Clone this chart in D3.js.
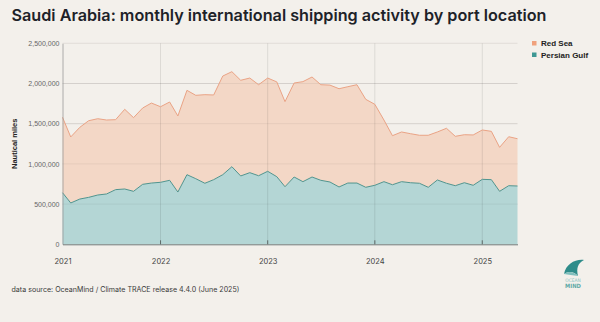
<!DOCTYPE html>
<html><head><meta charset="utf-8">
<script src="https://cdn.jsdelivr.net/npm/d3@7"></script>
<style>
html,body{margin:0;padding:0;background:#f3f0eb;}
svg{display:block;}
</style></head>
<body>
<svg id="c" width="600" height="322"></svg>
<script>
// ---- data ----
const startMonth = "2021-02";
const endMonth = "2025-05";
const seriesNames = ["Persian Gulf", "Red Sea"];
const persianGulf = [642000,514000,563000,584000,613000,626000,680000,688000,659000,746000,762000,
 771000,796000,650000,866000,816000,759000,804000,866000,965000,850000,891000,853000,
 908000,841000,716000,837000,779000,837000,796000,775000,713000,762000,762000,709000,
 734000,779000,741000,779000,766000,759000,709000,800000,759000,729000,766000,734000,
 808000,804000,659000,729000,725000];
const redSea = [938000,821000,892000,953000,949000,920000,870000,991000,916000,949000,995000,
 940000,974000,946000,1049000,1037000,1102000,1053000,1227000,1182000,1190000,1177000,1132000,
 1160000,1179000,1058000,1169000,1244000,1244000,1189000,1205000,1222000,1198000,1223000,1094000,
 1007000,767000,610000,618000,610000,597000,647000,597000,684000,614000,597000,626000,
 614000,601000,547000,609000,588000];
const yTicks = [0,500000,1000000,1500000,2000000,2500000];
const xTickYears = ["2021","2022","2023","2024","2025"];

// ---- build ----
const parse = d3.timeParse("%Y-%m");
const months = d3.timeMonth.range(parse(startMonth), d3.timeMonth.offset(parse(endMonth),1));
const rows = months.map((m,i)=>({date:m, "Persian Gulf":persianGulf[i], "Red Sea":redSea[i]}));

const svg = d3.select("#c");
const L=62.5, R=517.5, T=43.3, B=244.3;
const x = d3.scaleTime().domain([months[0], months[months.length-1]]).range([L,R]);
const y = d3.scaleLinear().domain([0,2500000]).range([B,T]);

const stack = d3.stack().keys(seriesNames)(rows);
const fills = {"Persian Gulf":"#b4d6d5","Red Sea":"#f3d7c6"};
const strokes = {"Persian Gulf":"#4f948e","Red Sea":"#eaa385"};
const legendCol = {"Red Sea":"#f0a17c","Persian Gulf":"#3e9894"};

// title
svg.append("text").attr("x",11.5).attr("y",20.5)
  .attr("font-family","Inter, 'Noto Sans', sans-serif").attr("font-weight",600)
  .attr("font-size",16.2).attr("fill","#1d2228")
  .text("Saudi Arabia: monthly international shipping activity by port location");

// horizontal grid
svg.append("g").selectAll("line").data(yTicks.filter(d=>d>0)).join("line")
  .attr("x1",L).attr("x2",R).attr("y1",d=>y(d)).attr("y2",d=>y(d))
  .attr("stroke","#dcd8d3").attr("stroke-width",0.8);

// areas
const area = d3.area().x(d=>x(d.data.date)).y0(d=>y(d[0])).y1(d=>y(d[1]));
const line = d3.line().x(d=>x(d.data.date)).y(d=>y(d[1]));
svg.append("g").selectAll("path").data(stack).join("path")
  .attr("d",area).attr("fill",d=>fills[d.key]);

// gridlines on top (semi transparent)
svg.append("g").selectAll("line").data(yTicks.filter(d=>d>0 && d<2500000)).join("line")
  .attr("x1",L).attr("x2",R).attr("y1",d=>y(d)).attr("y2",d=>y(d))
  .attr("stroke","rgba(0,0,0,0.07)").attr("stroke-width",0.8);
const yearDates = xTickYears.slice(1).map(s=>new Date(+s,0,1));
svg.append("g").selectAll("line").data(yearDates).join("line")
  .attr("x1",d=>x(d)).attr("x2",d=>x(d)).attr("y1",T).attr("y2",B)
  .attr("stroke","rgba(0,0,0,0.12)").attr("stroke-width",0.8);

svg.append("g").selectAll("path").data(stack).join("path")
  .attr("d",line).attr("fill","none").attr("stroke",d=>strokes[d.key]).attr("stroke-width",1);

// y axis
const yAxis = d3.axisLeft(y).tickValues(yTicks).tickSize(0).tickPadding(3)
  .tickFormat(d3.format(","));
const gy = svg.append("g").attr("transform",`translate(${L},0)`).call(yAxis);
gy.select(".domain").attr("stroke","#9a9a9a").attr("stroke-width",0.8);
gy.selectAll("text").attr("font-family","'Liberation Sans', Arial, sans-serif")
  .attr("font-size",7).attr("fill","#666");

// x axis
const xAxis = d3.axisBottom(x)
  .tickValues([months[0], ...yearDates])
  .tickSize(0).tickPadding(14)
  .tickFormat((d,i)=>xTickYears[i]);
const gx = svg.append("g").attr("transform",`translate(0,${B})`).call(xAxis);
gx.select(".domain").attr("stroke","#6f7a78").attr("stroke-width",1);
gx.selectAll("text").attr("font-family","Inter, sans-serif").attr("font-size",7.5).attr("fill","#444");
svg.append("g").selectAll("line").data(yearDates).join("line")
  .attr("x1",d=>x(d)).attr("x2",d=>x(d)).attr("y1",B-4).attr("y2",B)
  .attr("stroke","#5f6b69").attr("stroke-width",1);

// y title
svg.append("text").attr("transform",`translate(17,${(T+B)/2}) rotate(-90)`)
  .attr("text-anchor","middle").attr("font-family","'Liberation Sans', Arial, sans-serif")
  .attr("font-weight","bold").attr("font-size",7.5).attr("fill","#222").text("Nautical miles");

// legend
const legendOrder = ["Red Sea","Persian Gulf"];
const lg = svg.append("g").selectAll("g").data(legendOrder).join("g")
  .attr("transform",(d,i)=>`translate(532,${41+i*11.5})`);
lg.append("rect").attr("width",4.5).attr("height",4.5).attr("fill",d=>legendCol[d]);
lg.append("text").attr("x",9).attr("y",5).attr("font-family","'Liberation Sans', Arial, sans-serif")
  .attr("font-weight","bold").attr("font-size",8).attr("fill","#222").text(d=>d);

// footer
svg.append("text").attr("x",11.5).attr("y",292).attr("font-family","Inter, sans-serif")
  .attr("font-size",7.1).attr("fill","#3a3a3a")
  .text("data source: OceanMind / Climate TRACE release 4.4.0 (June 2025)");

// logo
const logo = svg.append("g").attr("transform","translate(563,259)");
logo.append("path").attr("d","M1,15 C3,5 12,0 21,1 C15,4 13,9 15,17 C11,12 5,12 1,15 Z").attr("fill","#2e8c8a");
logo.append("path").attr("d","M1,15 C5,12 10,12 15,17 C10,16 5,16 1,15 Z").attr("fill","#7fbfbd");
logo.append("text").attr("x",10).attr("y",23).attr("text-anchor","middle")
  .attr("font-family","'Liberation Sans Narrow','DejaVu Sans Condensed',sans-serif")
  .attr("font-size",4.8).attr("fill","#8cc4c2").text("OCEAN");
logo.append("text").attr("x",10).attr("y",28.5).attr("text-anchor","middle")
  .attr("font-family","'Liberation Sans Narrow','DejaVu Sans Condensed',sans-serif")
  .attr("font-weight","bold").attr("font-size",5.8).attr("fill","#5fa9a6").text("MIND");
</script>
</body></html>
